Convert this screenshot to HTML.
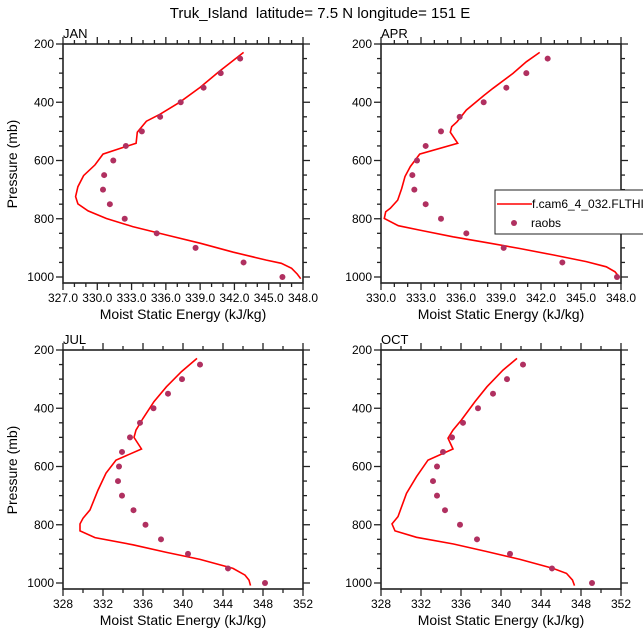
<!DOCTYPE html>
<html><head><meta charset="utf-8"><style>
body{margin:0;background:#fff}
svg{display:block;font-family:"Liberation Sans",Arial,sans-serif}
</style></head><body>
<svg id="c" width="643" height="639" viewBox="0 0 643 639">
<text x="320" y="18" text-anchor="middle" font-size="15" style="white-space:pre">Truk_Island  latitude= 7.5 N longitude= 151 E</text>
</svg>
<script>
const months = ["JAN","APR","JUL","OCT"];
const obsP = [250,300,350,400,450,500,550,600,650,700,750,800,850,900,950,1000];
const janObs = [342.5,340.8,339.3,337.3,335.5,333.9,332.5,331.4,330.6,330.5,331.1,332.4,335.2,338.6,342.8,346.2];
const aprObs = [342.5,340.9,339.4,337.7,335.9,334.5,333.35,332.7,332.35,332.5,333.35,334.5,336.4,339.2,343.6,347.7];
const julObs = [341.7,339.9,338.5,337.05,335.7,334.7,333.9,333.6,333.5,333.9,335.05,336.25,337.8,340.5,344.5,348.2];
const octObs = [342.2,340.6,339.2,337.7,336.2,335.1,334.2,333.6,333.2,333.6,334.4,335.9,337.6,340.9,345.1,349.1];
const janLineP = [229,293,349,400,441,465,503,541,552,578,615,652,690,724,749,773,799,827,856,884,915,942,953,970,990,1006];
const janLineV = [342.8,340.7,339.0,337.2,335.5,334.3,333.5,333.4,332.5,330.5,329.8,328.8,328.3,328.1,328.3,329.2,330.8,333.1,336.1,339.0,341.9,344.8,346.1,347.0,347.5,347.8];
const aprLineP = [229,261,301,352,377,427,467,484,503,541,578,621,655,696,736,764,776,799,824,839,862,882,902,924,947,965,982,1002];
const aprLineV = [341.9,340.9,339.9,338.4,337.7,336.4,335.7,335.3,335.2,335.75,332.9,332.2,331.8,331.55,331.25,330.7,330.35,330.25,331.3,332.9,335.4,337.9,340.4,342.9,345.4,346.9,347.55,347.9];
const julLineP = [229,274,326,377,435,475,500,540,578,623,681,749,778,797,821,844,869,895,919,950,973,990,1009];
const julLineV = [341.4,339.85,338.35,337.1,336.0,335.3,335.1,335.85,333.3,332.3,331.5,330.7,330.0,329.7,329.7,331.2,335.0,338.35,341.7,345.0,346.2,346.6,346.75];
const octLineP = [229,269,326,377,440,475,503,540,578,635,692,772,797,821,843,866,892,919,950,967,990,1009];
const octLineV = [341.6,340.2,338.6,337.4,336.05,335.2,334.7,335.2,332.7,331.55,330.55,329.7,329.1,329.4,331.55,335.25,338.55,341.9,345.2,346.55,347.15,347.35];
const xRanges = [[327,348],[330,348],[328,352],[328,352]];
const xMajorStep = [3,3,4,4];
const xMinorStep = [1,1,2,2];
const xDecimals = [1,1,0,0];
const yTicks = [200,400,600,800,1000];

const svg = document.getElementById('c');
const NS = 'http://www.w3.org/2000/svg';
function mk(tag, attrs, parent){const e=document.createElementNS(NS,tag);for(const k in attrs)e.setAttribute(k,attrs[k]);(parent||svg).appendChild(e);return e;}
const panels = [
 {x0:63,y0:44,obs:janObs,lp:janLineP,lv:janLineV},
 {x0:381,y0:44,obs:aprObs,lp:aprLineP,lv:aprLineV},
 {x0:63,y0:350,obs:julObs,lp:julLineP,lv:julLineV},
 {x0:381,y0:350,obs:octObs,lp:octLineP,lv:octLineV}
];
const W=240, H=239;
panels.forEach((pn,i)=>{
  const g = mk('g',{});
  
  
  const [xmin,xmax]=xRanges[i];
  const X = v => pn.x0 + (v-xmin)/(xmax-xmin)*W;
  const Y = p => pn.y0 + (p-200)*233/800;
  const lab = mk('text',{x:pn.x0,y:pn.y0-6,'font-size':13},g); lab.textContent=months[i];
  
  
  for(let p=200;p<=1000;p+=50){
    const L = (p%200===0)?7:4;
    mk('line',{x1:pn.x0-L,x2:pn.x0,y1:Y(p),y2:Y(p),stroke:'#222','stroke-width':1.3},g);
    mk('line',{x1:pn.x0+W,x2:pn.x0+W+L,y1:Y(p),y2:Y(p),stroke:'#222','stroke-width':1.3},g);
  }
  yTicks.forEach(p=>{
    const t=mk('text',{x:pn.x0-9,y:Y(p)+4,'font-size':12,'text-anchor':'end'},g); t.textContent=p;
    
    
  });
  for(let v=xmin; v<=xmax+1e-6; v+=xMinorStep[i]){
    const major = Math.abs(((v-xmin)/xMajorStep[i])-Math.round((v-xmin)/xMajorStep[i]))<1e-6;
    const L = major?7:4;
    mk('line',{x1:X(v),x2:X(v),y1:pn.y0+H,y2:pn.y0+H+L,stroke:'#222','stroke-width':1.3},g);
    mk('line',{x1:X(v),x2:X(v),y1:pn.y0-L,y2:pn.y0,stroke:'#222','stroke-width':1.3},g);
    if(major){
      const t=mk('text',{x:X(v),y:pn.y0+H+19,'font-size':12,'text-anchor':'middle'},g); t.textContent=v.toFixed(xDecimals[i]);
      
      
    }
  }
  const fr = mk('rect',{x:pn.x0,y:pn.y0,width:W,height:H,fill:'none',stroke:'#222','stroke-width':1.6},g);
  
  
  const xt = mk('text',{x:pn.x0+W/2,y:pn.y0+H+36,'font-size':14,'text-anchor':'middle'},g); xt.textContent='Moist Static Energy (kJ/kg)';
  
  
  if(i%2===0){
    const yt = mk('text',{x:17,y:pn.y0+120,'font-size':14,'text-anchor':'middle',transform:`rotate(-90 17 ${pn.y0+120})`},g); yt.textContent='Pressure (mb)';
    
    
  }
  const pts = pn.lp.map((p,k)=>X(pn.lv[k]).toFixed(1)+','+Y(p).toFixed(1)).join(' ');
  const pl = mk('polyline',{points:pts,fill:'none',stroke:'#ff0000','stroke-width':1.6},g);
  
  
  obsP.forEach((p,k)=>{
    const c = mk('circle',{cx:X(pn.obs[k]),cy:Y(p),r:3,fill:'#b03060'},g);
    
    
  });
});
const lg = mk('g',{});


mk('rect',{x:495,y:190,width:160,height:44,fill:'#fff',stroke:'#222','stroke-width':1},lg);
mk('line',{x1:497,x2:532,y1:204,y2:204,stroke:'#ff0000','stroke-width':1.6},lg);
const t1=mk('text',{x:532,y:208,'font-size':12},lg); t1.textContent='f.cam6_4_032.FLTHIST';


mk('circle',{cx:514,cy:223,r:3,fill:'#b03060'},lg);
const t2=mk('text',{x:531,y:227,'font-size':12},lg); t2.textContent='raobs';


</script>
</body></html>
